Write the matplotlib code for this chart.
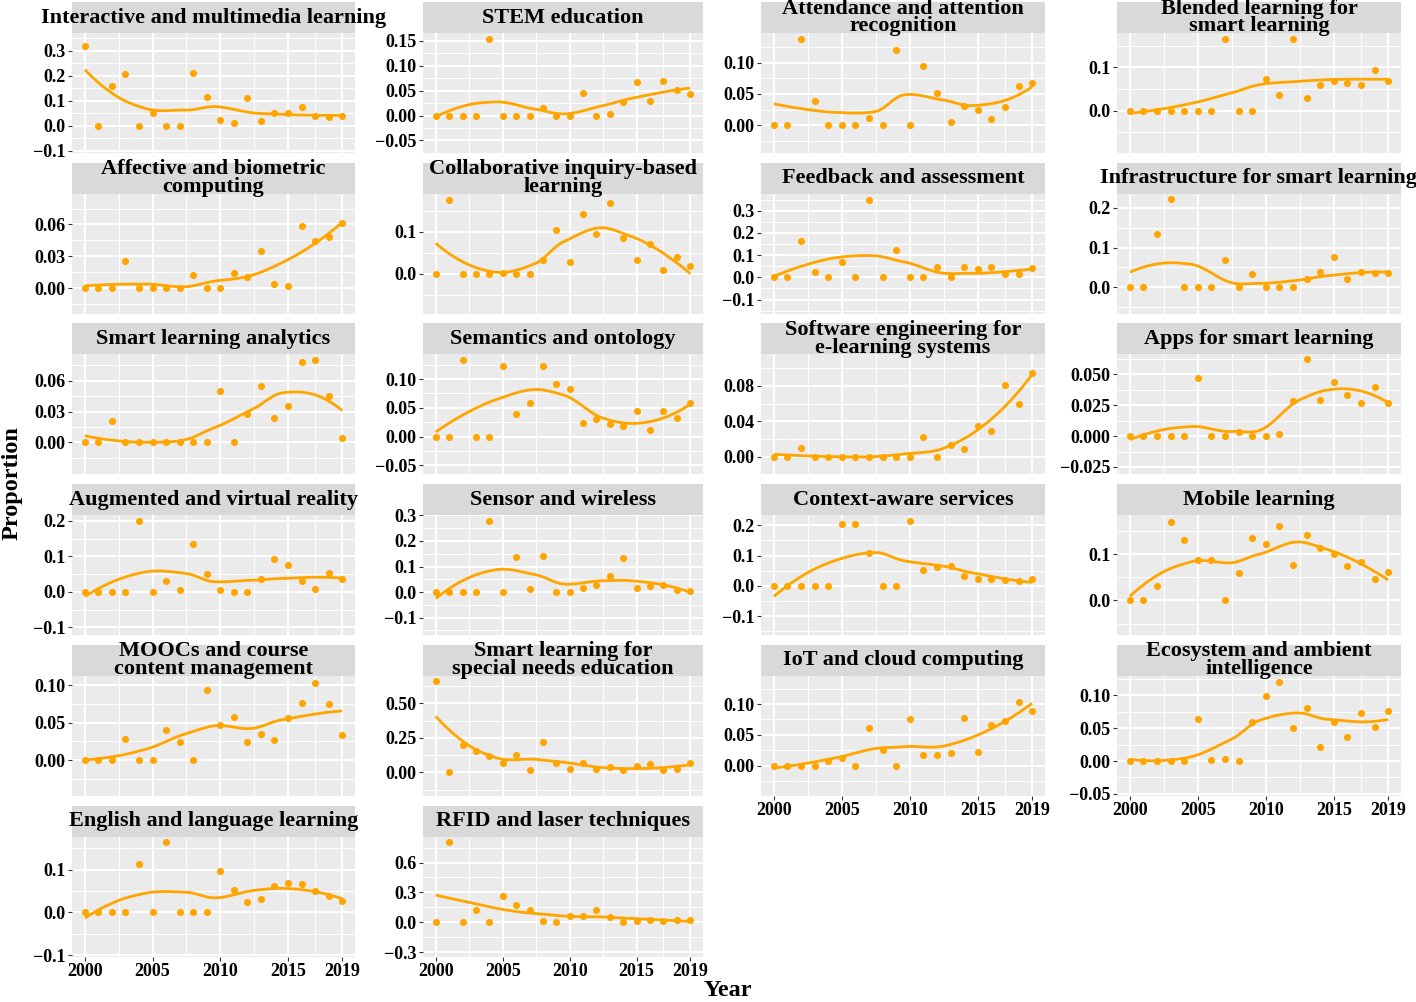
import numpy as np
import matplotlib.pyplot as plt
from matplotlib.patches import Rectangle

plt.rcParams['font.family'] = ['Liberation Serif', 'DejaVu Serif']
plt.rcParams['font.weight'] = 'bold'

years = np.arange(2000, 2020)

titles = [
    'Interactive and multimedia learning', 'STEM education',
    'Attendance and attention\nrecognition', 'Blended learning for\nsmart learning',
    'Affective and biometric\ncomputing', 'Collaborative inquiry-based\nlearning',
    'Feedback and assessment', 'Infrastructure for smart learning',
    'Smart learning analytics', 'Semantics and ontology',
    'Software engineering for\ne-learning systems', 'Apps for smart learning',
    'Augmented and virtual reality', 'Sensor and wireless',
    'Context-aware services', 'Mobile learning',
    'MOOCs and course\ncontent management', 'Smart learning for\nspecial needs education',
    'IoT and cloud computing', 'Ecosystem and ambient\nintelligence',
    'English and language learning', 'RFID and laser techniques',
]

# proportion per year, 2000..2019
interactive = [0.32, 0, 0.16, 0.205, 0, 0.05, 0, 0, 0.21, 0.115, 0.023, 0.012, 0.11, 0.021, 0.05, 0.05, 0.075, 0.038, 0.035, 0.038]
stem = [0, 0, 0, 0, 0.154, 0, 0, 0, 0.015, 0, 0, 0.045, 0, 0.003, 0.027, 0.067, 0.029, 0.069, 0.051, 0.043]
attendance = [0, 0, 0.138, 0.039, 0, 0, 0, 0.011, 0, 0.12, 0, 0.095, 0.052, 0.005, 0.031, 0.025, 0.0095, 0.03, 0.063, 0.067]
blended = [0, 0, 0, 0, 0, 0, 0, 0.165, 0, 0, 0.072, 0.036, 0.165, 0.03, 0.058, 0.068, 0.063, 0.059, 0.094, 0.069]
affective = [0, 0, 0, 0.026, 0, 0, 0, 0, 0.012, 0, 0, 0.014, 0.011, 0.035, 0.0035, 0.0025, 0.059, 0.044, 0.048, 0.061]
collaborative = [0, 0.176, 0, 0, 0, 0.0016, 0, 0, 0.033, 0.103, 0.029, 0.142, 0.095, 0.168, 0.085, 0.032, 0.07, 0.01, 0.04, 0.02]
feedback = [0, 0, 0.165, 0.024, 0, 0.07, 0, 0.35, 0, 0.123, 0, 0, 0.047, 0, 0.048, 0.036, 0.048, 0.013, 0.015, 0.04]
infrastructure = [0, 0, 0.135, 0.221, 0, 0, 0, 0.068, 0, 0.033, 0, 0, 0, 0.02, 0.038, 0.075, 0.021, 0.038, 0.035, 0.035]
analytics = [0, 0, 0.021, 0, 0, 0, 0, 0, 0, 0, 0.05, 0, 0.028, 0.055, 0.0235, 0.0355, 0.078, 0.08, 0.045, 0.004]
semantics = [0, 0, 0.133, 0, 0, 0.123, 0.04, 0.058, 0.123, 0.091, 0.082, 0.023, 0.03, 0.021, 0.018, 0.044, 0.012, 0.044, 0.032, 0.059]
software = [0, 0, 0.0094, 0, 0, 0, 0, 0, 0, 0, 0, 0.022, 0, 0.013, 0.0087, 0.035, 0.0287, 0.081, 0.06, 0.095]
apps = [0, 0, 0, 0, 0, 0.047, 0, 0, 0.0032, 0, 0, 0.0014, 0.0287, 0.062, 0.029, 0.044, 0.033, 0.027, 0.04, 0.0265]
ar_vr = [0, 0, 0, 0, 0.2, 0, 0.031, 0.004, 0.134, 0.05, 0.005, 0, 0, 0.035, 0.091, 0.076, 0.03, 0.009, 0.053, 0.036]
sensor = [0, 0, 0, 0, 0.279, 0, 0.136, 0.014, 0.143, 0, 0, 0.018, 0.027, 0.064, 0.134, 0.017, 0.023, 0.029, 0.008, 0.005]
context = [0, 0, 0, 0, 0, 0.205, 0.205, 0.109, 0, 0, 0.215, 0.052, 0.061, 0.066, 0.033, 0.023, 0.021, 0.019, 0.015, 0.023]
mobile = [0, 0, 0.032, 0.17, 0.131, 0.087, 0.087, 0, 0.058, 0.135, 0.122, 0.16, 0.076, 0.14, 0.112, 0.101, 0.074, 0.083, 0.047, 0.061]
moocs = [0, 0, 0, 0.0286, 0, 0, 0.04, 0.024, 0, 0.094, 0.047, 0.058, 0.024, 0.035, 0.027, 0.056, 0.076, 0.103, 0.075, 0.033]
special = [0.66, 0, 0.198, 0.152, 0.116, 0.07, 0.128, 0.019, 0.22, 0.068, 0.022, 0.065, 0.022, 0.041, 0.0145, 0.048, 0.058, 0.017, 0.024, 0.068]
iot = [0, 0, 0, 0, 0.0076, 0.012, 0, 0.0605, 0.0254, 0, 0.075, 0.017, 0.017, 0.02, 0.077, 0.022, 0.066, 0.072, 0.103, 0.089]
ecosystem = [0, 0, 0, 0, 0, 0.0635, 0.001, 0.0025, 0, 0.06, 0.0985, 0.121, 0.0503, 0.081, 0.021, 0.06, 0.036, 0.0726, 0.052, 0.0766]
english = [0, 0, 0, 0, 0.1125, 0, 0.165, 0, 0, 0, 0.096, 0.052, 0.024, 0.032, 0.063, 0.07, 0.066, 0.049, 0.039, 0.027]
rfid = [0, 0.81, 0, 0.124, 0, 0.26, 0.17, 0.124, 0.017, 0, 0.064, 0.064, 0.127, 0.057, 0, 0.017, 0.02, 0.017, 0.02, 0.02]

series = [interactive, stem, attendance, blended, affective, collaborative,
          feedback, infrastructure, analytics, semantics, software, apps,
          ar_vr, sensor, context, mobile, moocs, special, iot, ecosystem,
          english, rfid]

# free y scales (limits, breaks, decimals)
y_limits = [(-0.108, 0.370), (-0.075, 0.165), (-0.044, 0.147), (-0.098, 0.179),
            (-0.024, 0.089), (-0.094, 0.190), (-0.164, 0.377), (-0.066, 0.235),
            (-0.031, 0.0855), (-0.066, 0.143), (-0.020, 0.1155), (-0.031, 0.066),
            (-0.122, 0.216), (-0.168, 0.301), (-0.163, 0.234), (-0.075, 0.184),
            (-0.048, 0.113), (-0.169, 0.700), (-0.049, 0.146), (-0.053, 0.130),
            (-0.1035, 0.178), (-0.343, 0.861)]
y_breaks = [[-0.1, 0, 0.1, 0.2, 0.3], [-0.05, 0, 0.05, 0.10, 0.15], [0, 0.05, 0.10], [0, 0.1],
            [0, 0.03, 0.06], [0, 0.1], [-0.1, 0, 0.1, 0.2, 0.3], [0, 0.1, 0.2],
            [0, 0.03, 0.06], [-0.05, 0, 0.05, 0.10], [0, 0.04, 0.08], [-0.025, 0, 0.025, 0.05],
            [-0.1, 0, 0.1, 0.2], [-0.1, 0, 0.1, 0.2, 0.3], [-0.1, 0, 0.1, 0.2], [0, 0.1],
            [0, 0.05, 0.10], [0, 0.25, 0.50], [0, 0.05, 0.10], [-0.05, 0, 0.05, 0.10],
            [-0.1, 0, 0.1], [-0.3, 0, 0.3, 0.6]]
y_digits = [1, 2, 2, 1, 2, 1, 1, 1, 2, 2, 2, 3, 1, 1, 1, 1, 2, 2, 2, 2, 1, 1]

x_breaks = [2000, 2005, 2010, 2015, 2019]
x_minor = [2002.5, 2007.5, 2012.5, 2017]


# loess like R's (degree 2, span 0.75, kd-tree vertices + cubic hermite interpolation)
def local_fit(x, y, x0, span):
    q = int(np.floor(len(x) * span))
    d = np.abs(x - x0)
    h = np.sort(d)[q - 1]
    w = np.clip(1 - (d / h) ** 3, 0, None) ** 3
    sw = np.sqrt(w)
    X = np.column_stack([np.ones_like(x), x - x0, (x - x0) ** 2])
    coef = np.linalg.lstsq(X * sw[:, None], y * sw, rcond=None)[0]
    return coef[0], coef[1]


def kd_vertices(x, fc):
    xs = np.sort(x)
    mu = 0.005 * (xs[-1] - xs[0])
    verts = [xs[0] - mu, xs[-1] + mu]

    def split(l, u):
        if u - l + 1 <= fc:
            return
        m = (l + u + 2) // 2 - 1
        verts.append((xs[m] + xs[m + 1]) / 2)
        split(l, m)
        split(m + 1, u)

    split(0, len(xs) - 1)
    return np.sort(verts)


def loess_curve(x, y, span=0.75, n_out=80):
    x = np.asarray(x, float)
    y = np.asarray(y, float)
    fc = int(np.floor(len(x) * span * 0.2))
    vx = kd_vertices(x, fc)
    vv = np.array([local_fit(x, y, v, span) for v in vx])
    grid = np.linspace(x.min(), x.max(), n_out)
    out = np.empty_like(grid)
    for k, g in enumerate(grid):
        j = int(np.clip(np.searchsorted(vx, g) - 1, 0, len(vx) - 2))
        hh = vx[j + 1] - vx[j]
        t = (g - vx[j]) / hh
        h00 = 2 * t ** 3 - 3 * t ** 2 + 1
        h10 = t ** 3 - 2 * t ** 2 + t
        h01 = -2 * t ** 3 + 3 * t ** 2
        h11 = t ** 3 - t ** 2
        out[k] = h00 * vv[j, 0] + h10 * hh * vv[j, 1] + h01 * vv[j + 1, 0] + h11 * hh * vv[j + 1, 1]
    return grid, out


def fmt(v, d):
    return f'{v:.{d}f}'.replace('-', '\u2212')


W, H = 1416, 1002
fig = plt.figure(figsize=(W / 100, H / 100), dpi=100)

col_left = [72, 423, 761, 1117]
col_width = [283, 280, 284, 284]
strip_h = 31
panel_h = 120
pitch = 160.7
bottom_panels = [18, 19, 20, 21]

for i, (title, vals) in enumerate(zip(titles, series)):
    r, c = divmod(i, 4)
    top = 2 + pitch * r + strip_h
    ax = fig.add_axes([col_left[c] / W, 1 - (top + panel_h) / H, col_width[c] / W, panel_h / H])
    ax.set_facecolor('#EBEBEB')
    for s in ax.spines.values():
        s.set_visible(False)

    ax.scatter(years, vals, s=26, color='orange', linewidths=0, zorder=3)
    gx, gy = loess_curve(years, vals)
    ax.plot(gx, gy, color='orange', lw=2.0, zorder=4, solid_capstyle='butt')

    lo, hi = y_limits[i]
    ax.set_xlim(2000 - 0.95, 2019 + 0.95)
    ax.set_ylim(lo, hi)

    brk = y_breaks[i]
    step = brk[1] - brk[0]
    minors = np.arange(brk[0] - step / 2, hi, step)
    minors = [m for m in minors if lo <= m <= hi]
    ax.set_yticks(brk)
    ax.set_yticklabels([fmt(b, y_digits[i]) for b in brk])
    ax.set_yticks(minors, minor=True)
    ax.set_xticks(x_breaks)
    ax.set_xticklabels([str(b) for b in x_breaks])
    ax.set_xticks(x_minor, minor=True)

    ax.set_axisbelow(True)
    ax.grid(which='major', color='white', lw=1.5)
    ax.grid(which='minor', color='white', lw=0.75)
    ax.tick_params(which='minor', length=0)
    ax.tick_params(which='major', length=2.75, width=0.8, color='#333333', pad=2,
                   labelsize=13, labelcolor='black')
    if i not in bottom_panels:
        ax.tick_params(axis='x', which='major', labelbottom=False, length=0)

    ax.add_patch(Rectangle((0, 1), 1, strip_h / panel_h, transform=ax.transAxes,
                           facecolor='#D9D9D9', edgecolor='none', clip_on=False))
    ax.text(0.5, 1 + strip_h / 2 / panel_h, title, transform=ax.transAxes,
            ha='center', va='center', fontsize=16, fontweight='bold',
            linespacing=0.85, clip_on=False, zorder=5)

fig.text(12 / W, 1 - 483 / H, 'Proportion', rotation=90, ha='center', va='center',
         fontsize=17.5, fontweight='bold')
fig.text(728 / W, 1 - 990 / H, 'Year', ha='center', va='center',
         fontsize=17.5, fontweight='bold')

fig.savefig('out.png', dpi=100)
